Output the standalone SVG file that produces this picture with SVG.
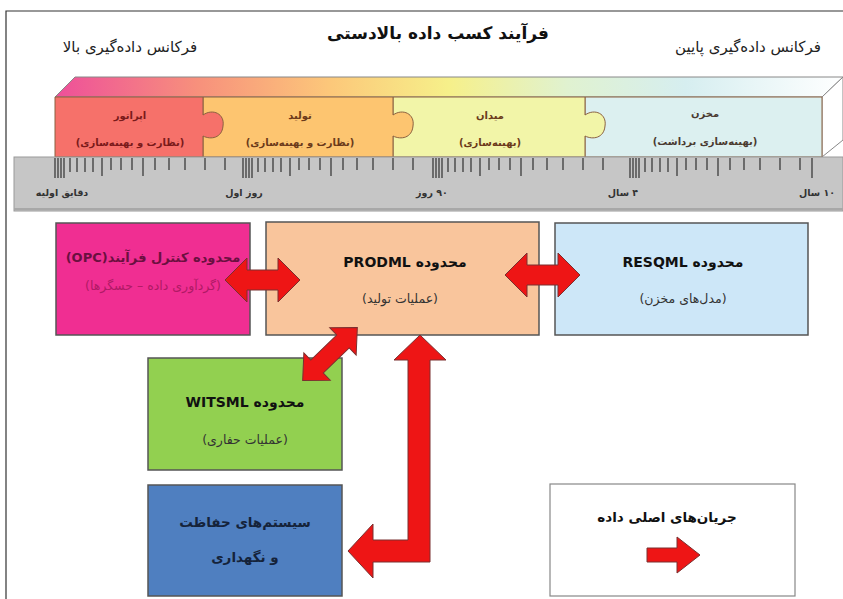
<svg xmlns="http://www.w3.org/2000/svg" width="843" height="599" viewBox="0 0 843 599">
<defs>
<linearGradient id="topg" x1="0" y1="0" x2="1" y2="0">
<stop offset="0" stop-color="#ee4f9a"/>
<stop offset="0.18" stop-color="#f7907c"/>
<stop offset="0.35" stop-color="#fcc87a"/>
<stop offset="0.5" stop-color="#f6f08a"/>
<stop offset="0.65" stop-color="#e0f2d0"/>
<stop offset="0.8" stop-color="#d6eef0"/>
<stop offset="1" stop-color="#ffffff"/>
</linearGradient>
<style>
text{font-family:"DejaVu Sans","Noto Sans",sans-serif;direction:rtl;unicode-bidi:embed;text-anchor:middle}
.box{stroke:#555;stroke-width:1.5}
.seg{stroke:#8a6040;stroke-width:1}
.st{font-size:10px;font-weight:bold;fill:#6b3a1a}
.tt{font-size:14px;font-weight:bold;fill:#111}
.sub{font-size:12.5px;fill:#333}
.rl{font-size:9.5px;font-weight:bold;fill:#333}
.arr{fill:#ee1515;stroke:#7a3030;stroke-width:1}
</style>
</defs>
<rect width="843" height="599" fill="#fff"/>
<path d="M6 599V11H843" fill="none" stroke="#333" stroke-width="1.2"/>

<g id="header">
<text x="438" y="39" style="font-size:17px;font-weight:bold;fill:#111">فرآیند کسب داده بالادستی</text>
<text x="130" y="52" style="font-size:15px;fill:#222">فرکانس داده‌گیری بالا</text>
<text x="748" y="52" style="font-size:15px;fill:#222">فرکانس داده‌گیری پایین</text>
</g>

<g id="bar">
<polygon points="55,97 75,77 843,77 822,97" fill="url(#topg)" stroke="#888" stroke-width="1"/>
<polygon points="822,97 843,77 843,140 822,157" fill="#fff" stroke="#888" stroke-width="1"/>
<path class="seg" d="M585 97H822V157H585Z" fill="#dcf0f0"/>
<path class="seg" d="M393 97H585V115C595 108 607 114 605 126C604 138 593 140 585 136V157H393Z" fill="#f2f5a8"/>
<path class="seg" d="M203 97H393V115C403 108 415 114 413 126C412 138 401 140 393 136V157H203Z" fill="#fdc570"/>
<path class="seg" d="M55 97H203V115C213 108 225 114 223 126C222 138 211 140 203 136V157H55Z" fill="#f6716a"/>
<text class="st" x="130" y="119" style="fill:#7a1a1a">اپراتور</text>
<text class="st" x="130" y="146" style="fill:#7a1a1a">(نظارت و بهینه‌سازی)</text>
<text class="st" x="300" y="119">تولید</text>
<text class="st" x="300" y="146">(نظارت و بهینه‌سازی)</text>
<text class="st" x="490" y="119">میدان</text>
<text class="st" x="490" y="146">(بهینه‌سازی)</text>
<text class="st" x="705" y="117" style="fill:#4a3a30">مخزن</text>
<text class="st" x="705" y="145" style="fill:#4a3a30">(بهینه‌سازی برداشت)</text>
</g>

<g id="ruler">
<rect x="14" y="157" width="829" height="54" fill="#c6c6c6" stroke="#999" stroke-width="1"/>
<line x1="14" y1="209" x2="843" y2="209" stroke="#a8a8a8" stroke-width="2"/>
<path fill="none" stroke="#555" stroke-width="1.6" d="M55 158v20M58 158v20M61 158v20M64 158v20M70 158v14M77 158v14M85 158v14M93 158v14M102 158v18M111 158v12M121 158v12M132 158v12M143 158v18M155 158v12M169 158v12M185 158v12M205 158v12M225 158v12
M243 158v20M246 158v20M249 158v20M252 158v20M258 158v14M265 158v14M273 158v14M281 158v14M290 158v18M299 158v12M309 158v12M320 158v12M331 158v18M343 158v12M357 158v12M373 158v12M393 158v12M413 158v12
M433 158v20M436 158v20M439 158v20M442 158v20M448 158v14M455 158v14M463 158v14M471 158v14M480 158v18M489 158v12M499 158v12M510 158v12M521 158v18M533 158v12M547 158v12M563 158v12M583 158v12M603 158v12
M630 158v20M633 158v20M636 158v20M639 158v20M645 158v14M652 158v14M660 158v14M668 158v14M677 158v18M686 158v12M696 158v12M707 158v12M718 158v18M730 158v12M744 158v12M760 158v12M780 158v12M800 158v12M812 158v20"/>
<text class="rl" x="62" y="196">دقایق اولیه</text>
<text class="rl" x="244" y="196">روز اول</text>
<text class="rl" x="432" y="196">۹۰ روز</text>
<text class="rl" x="623" y="196">۴ سال</text>
<text class="rl" x="817" y="196">۱۰ سال</text>
</g>

<g id="opc">
<rect class="box" x="56" y="223" width="194" height="112" fill="#f02e92"/>
<text x="153" y="262" style="font-size:13px;font-weight:bold;fill:#6a1040">محدوده کنترل فرآیند(OPC)</text>
<text x="153" y="290" style="font-size:12.5px;fill:#b01a66">(گردآوری داده – حسگرها)</text>
</g>

<g id="prodml">
<rect class="box" x="266" y="222" width="273" height="113" fill="#f9c59c"/>
<text class="tt" x="405" y="267">محدوده PRODML</text>
<text class="sub" x="400" y="303">(عملیات تولید)</text>
</g>

<g id="resqml">
<rect class="box" x="555" y="223" width="253" height="112" fill="#cde7f8"/>
<text class="tt" x="683" y="267">محدوده RESQML</text>
<text class="sub" x="683" y="303">(مدل‌های مخزن)</text>
</g>

<g id="witsml">
<rect class="box" x="148" y="358" width="194" height="112" fill="#92d050"/>
<text class="tt" x="245" y="407">محدوده WITSML</text>
<text class="sub" x="245" y="444">(عملیات حفاری)</text>
</g>

<g id="storage">
<rect class="box" x="148" y="485" width="194" height="111" fill="#4f7fc0"/>
<text x="245" y="527" style="font-size:13.5px;font-weight:bold;fill:#15233a">سیستم‌های حفاظت</text>
<text x="245" y="562" style="font-size:13.5px;font-weight:bold;fill:#15233a">و نگهداری</text>
</g>

<g id="legend">
<rect x="550" y="484" width="245" height="112" fill="#fff" stroke="#888" stroke-width="1.2"/>
<text x="667" y="522" style="font-size:13.5px;font-weight:bold;fill:#111">جریان‌های اصلی داده</text>
<path class="arr" d="M647 548H677V537L700 555L677 573V562H647Z"/>
</g>

<g id="connectors">
<polygon class="arr" points="225,280 247,258 247,270 278,270 278,258 300,280 278,302 278,290 247,290 247,302"/>
<polygon class="arr" points="505,275 527,253 527,265 558,265 558,253 580,275 558,297 558,285 527,285 527,297"/>
<polygon class="arr" transform="translate(330,354) rotate(-44)" points="-38,0 -18,-19 -18,-9 18,-9 18,-19 38,0 18,19 18,9 -18,9 -18,19"/>
<path class="arr" d="M420 335L446 360H430V562H373V578L348 551L373 524V540H408V360H394Z"/>
</g>
</svg>
